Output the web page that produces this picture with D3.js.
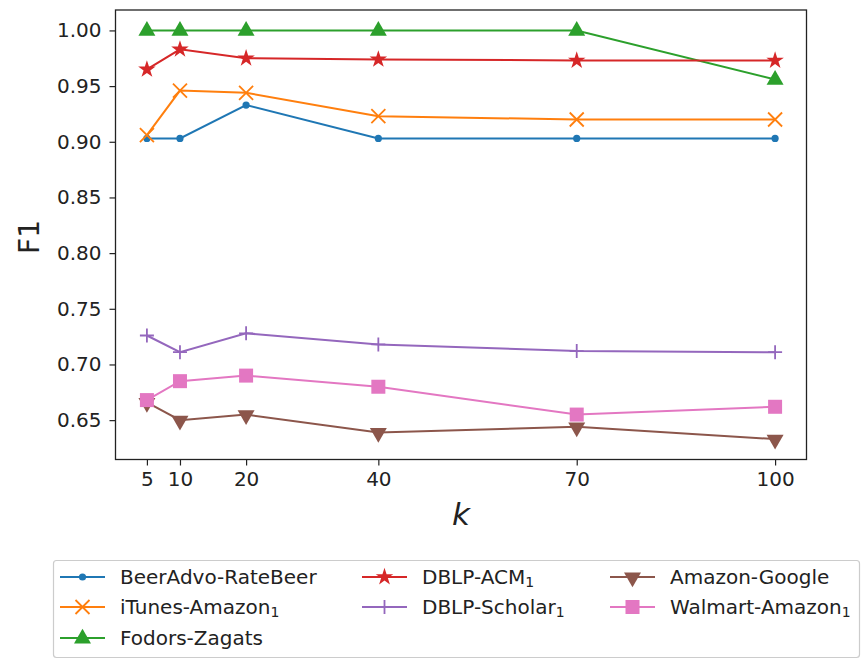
<!DOCTYPE html>
<html><head><meta charset="utf-8">
<script src="https://cdn.jsdelivr.net/npm/d3@7"></script>
<style>body{margin:0;background:#fff;} svg{display:block;font-family:"DejaVu Sans",sans-serif;}</style>
</head><body>
<svg id="c" width="862" height="660"></svg>
<script>
const ks = [5, 10, 20, 40, 70, 100];
const yTicks = [0.65, 0.70, 0.75, 0.80, 0.85, 0.90, 0.95, 1.00];
const names = ["BeerAdvo-RateBeer", "iTunes-Amazon", "Fodors-Zagats", "DBLP-ACM", "DBLP-Scholar", "Amazon-Google", "Walmart-Amazon"];
const subs = ["", "1", "", "1", "1", "", "1"];
const colors = ["#1f77b4", "#ff7f0e", "#2ca02c", "#d62728", "#9467bd", "#8c564b", "#e377c2"];
const markers = ["dot", "x", "tri", "star", "plus", "vtri", "square"];
const beer = [0.903, 0.903, 0.933, 0.903, 0.903, 0.903];
const itunes = [0.906, 0.946, 0.944, 0.923, 0.920, 0.920];
const fodors = [1.000, 1.000, 1.000, 1.000, 1.000, 0.956];
const dblpAcm = [0.965, 0.983, 0.975, 0.974, 0.973, 0.973];
const dblpScholar = [0.726, 0.711, 0.728, 0.718, 0.712, 0.711];
const amazonGoogle = [0.666, 0.650, 0.655, 0.639, 0.644, 0.633];
const walmart = [0.668, 0.685, 0.690, 0.680, 0.655, 0.662];
const seriesVals = [beer, itunes, fodors, dblpAcm, dblpScholar, amazonGoogle, walmart];

const svg = d3.select("#c");
const L = 115.5, R = 806.5, T = 10, B = 459.5;
const xmin = 5 - 0.05 * 95, xmax = 100 + 0.05 * 95;
const allV = seriesVals.flat();
const vmin = d3.min(allV), vmax = d3.max(allV), vr = vmax - vmin;
const x = d3.scaleLinear().domain([xmin, xmax]).range([L, R]);
const y = d3.scaleLinear().domain([vmin - 0.05 * vr, vmax + 0.05 * vr]).range([B, T]);

// axes
const xa = svg.append("g").attr("transform", `translate(0,${B})`)
  .call(d3.axisBottom(x).tickValues(ks).tickFormat(d3.format("d")).tickSize(6).tickPadding(6));
const ya = svg.append("g").attr("transform", `translate(${L},0)`)
  .call(d3.axisLeft(y).tickValues(yTicks).tickFormat(d3.format(".2f")).tickSize(6).tickPadding(8));
[xa, ya].forEach(a => {
  a.selectAll("text").attr("font-size", 20).attr("fill", "#222").attr("font-family", "DejaVu Sans");
  a.selectAll("line").attr("stroke", "#222").attr("stroke-width", 1.2);
  a.select(".domain").remove();
});
svg.append("rect").attr("x", L).attr("y", T).attr("width", R - L).attr("height", B - T)
  .attr("fill", "none").attr("stroke", "#222").attr("stroke-width", 1.3);

svg.append("text").attr("transform", `translate(39,${237}) rotate(-90)`)
  .attr("text-anchor", "middle").attr("font-size", 28).attr("fill", "#222").text("F1");
svg.append("text").attr("x", 461).attr("y", 525).attr("text-anchor", "middle")
  .attr("font-size", 31).attr("font-style", "italic").attr("fill", "#222").text("k");

function drawMarker(g, type, cx, cy, color) {
  const m = g.append("g").attr("transform", `translate(${cx},${cy})`);
  if (type === "dot") m.append("circle").attr("r", 3.6).attr("fill", color);
  else if (type === "x") m.append("path").attr("d", "M-7,-7L7,7M-7,7L7,-7").attr("stroke", color).attr("stroke-width", 1.8).attr("fill", "none");
  else if (type === "plus") m.append("path").attr("d", "M-7,0L7,0M0,-7L0,7").attr("stroke", color).attr("stroke-width", 1.8).attr("fill", "none");
  else if (type === "tri") m.append("path").attr("d", d3.symbol(d3.symbolTriangle, 125)()).attr("fill", color).attr("transform", "translate(0,0.5)");
  else if (type === "vtri") m.append("path").attr("d", d3.symbol(d3.symbolTriangle, 125)()).attr("fill", color).attr("transform", "rotate(180) translate(0,-0.5)");
  else if (type === "star") m.append("path").attr("d", d3.symbol(d3.symbolStar, 95)()).attr("fill", color);
  else if (type === "square") m.append("rect").attr("x", -7).attr("y", -7).attr("width", 14).attr("height", 14).attr("fill", color);
}

const line = d3.line().x((d, i) => x(ks[i])).y(d => y(d));
seriesVals.forEach((vals, si) => {
  const g = svg.append("g");
  g.append("path").datum(vals).attr("d", line).attr("fill", "none")
    .attr("stroke", colors[si]).attr("stroke-width", 2);
  vals.forEach((v, i) => drawMarker(g, markers[si], x(ks[i]), y(v), colors[si]));
});

// legend (matplotlib ncol=3 distributes 3,2,2)
const lg = svg.append("g");
lg.append("rect").attr("x", 53.5).attr("y", 560.5).attr("width", 806).attr("height", 97).attr("rx", 3)
  .attr("fill", "#fff").attr("stroke", "#ccc").attr("stroke-width", 1.2);
const colX = [60, 362, 610], rowY = [577, 607, 638];
const colOf = [0, 0, 0, 1, 1, 2, 2], rowOf = [0, 1, 2, 0, 1, 0, 1];
names.forEach((n, i) => {
  const cx = colX[colOf[i]], cy = rowY[rowOf[i]];
  const g = lg.append("g");
  g.append("line").attr("x1", cx).attr("x2", cx + 45).attr("y1", cy).attr("y2", cy)
    .attr("stroke", colors[i]).attr("stroke-width", 2);
  drawMarker(g, markers[i], cx + 22.5, cy, colors[i]);
  const t = g.append("text").attr("x", cx + 60).attr("y", cy + 7).attr("font-size", 20).attr("fill", "#222").text(n);
  if (subs[i]) t.append("tspan").attr("font-size", 14).attr("dy", 3).text(subs[i]);
});
</script>
</body></html>
